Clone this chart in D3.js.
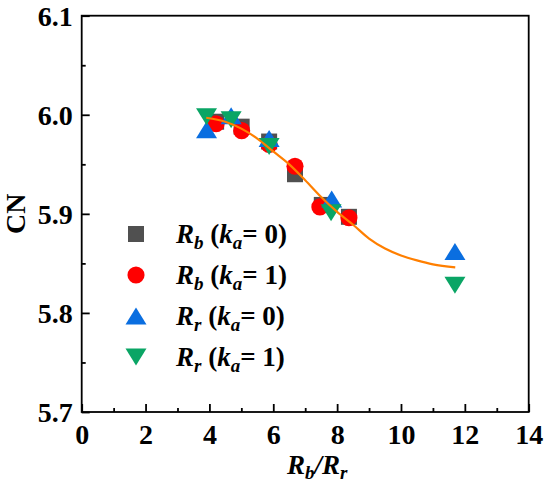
<!DOCTYPE html>
<html>
<head>
<meta charset="utf-8">
<script src="https://cdn.jsdelivr.net/npm/d3@7"></script>
<style>
  html, body { margin: 0; padding: 0; background: #fff; }
  svg text { font-family: "Liberation Serif", "Times New Roman", Times, "DejaVu Serif", serif !important; font-weight: bold; fill: #000; }
</style>
</head>
<body>
<svg id="chart" width="550" height="483"></svg>
<script>
// Rb, ka = 0 (gray squares)
const rbKa0 = [
  [4.21, 5.993], [5.01, 5.988], [5.87, 5.973], [6.68, 5.940], [7.52, 5.909], [8.37, 5.897]
];
// Rb, ka = 1 (red circles)
const rbKa1 = [
  [4.21, 5.991], [5.01, 5.984], [5.87, 5.970], [6.68, 5.948], [7.46, 5.907], [8.37, 5.896]
];
// Rr, ka = 0 (blue up triangles)
const rrKa0 = [
  [3.91, 5.985], [4.68, 5.999], [5.87, 5.976], [7.83, 5.915], [11.69, 5.862]
];
// Rr, ka = 1 (green down triangles)
const rrKa1 = [
  [3.91, 5.998], [4.68, 5.995], [5.87, 5.968], [7.81, 5.901], [11.69, 5.828]
];
// fitted curve
const fitCurve = [
  [3.9, 5.997], [4.5, 5.993], [5.0, 5.986], [5.5, 5.976], [6.0, 5.963], [6.5, 5.950],
  [7.0, 5.934], [7.5, 5.917], [8.0, 5.902], [8.5, 5.889], [9.0, 5.875], [9.5, 5.865],
  [10.0, 5.858], [10.5, 5.853], [11.0, 5.849], [11.7, 5.846]
];

const xTicks = [0, 2, 4, 6, 8, 10, 12, 14];
const xMinor = [1, 3, 5, 7, 9, 11, 13];
const yTicks = [5.7, 5.8, 5.9, 6.0, 6.1];
const yMinor = [5.75, 5.85, 5.95, 6.05];

const series = [
  { data: rbKa0, sym: d3.symbolSquare, size: 256, color: '#505050', main: 'R', sub: 'b', k: '0' },
  { data: rbKa1, sym: d3.symbolCircle, size: 230, color: '#ff0000', main: 'R', sub: 'b', k: '1' },
  { data: rrKa0, sym: 'up', color: '#0a6ee0', main: 'R', sub: 'r', k: '0' },
  { data: rrKa1, sym: 'down', color: '#0aa565', main: 'R', sub: 'r', k: '1' },
];

const margin = { left: 81.7, right: 550 - 528.7, top: 15.7, bottom: 483 - 412 };
const W = 550, H = 483;

const svg = d3.select('#chart');

const x = d3.scaleLinear().domain([0, 14]).range([margin.left, W - margin.right]);
const y = d3.scaleLinear().domain([5.7, 6.1]).range([H - margin.bottom, margin.top]);

// triangles as paths, so they match the picture's wide shape
function triPath(dir, w, h) {
  const s = dir === 'up' ? 1 : -1;
  return `M0,${-s * h / 2}L${w / 2},${s * h / 2}L${-w / 2},${s * h / 2}Z`;
}
function markerPath(s) {
  if (s.sym === 'up' || s.sym === 'down') return triPath(s.sym, 21, 17);
  return d3.symbol().type(s.sym).size(s.size)();
}

// axes
const xAxis = svg.append('g')
  .attr('transform', `translate(0,${y(5.7)})`)
  .call(d3.axisBottom(x).tickValues(xTicks).tickSize(-8).tickFormat(d3.format('d')));
svg.append('g')
  .attr('transform', `translate(0,${y(5.7)})`)
  .call(d3.axisBottom(x).tickValues(xMinor).tickSize(-4).tickFormat(''));

const yAxis = svg.append('g')
  .attr('transform', `translate(${x(0)},0)`)
  .call(d3.axisLeft(y).tickValues(yTicks).tickSize(-8).tickFormat(d3.format('.1f')));
svg.append('g')
  .attr('transform', `translate(${x(0)},0)`)
  .call(d3.axisLeft(y).tickValues(yMinor).tickSize(-4).tickFormat(''));

svg.selectAll('.domain').remove();
svg.selectAll('.tick line').attr('stroke', '#000').attr('stroke-width', 1.8);

xAxis.selectAll('text')
  .attr('y', 32).attr('dy', null)
  .style('font-size', '28px');
yAxis.selectAll('text')
  .attr('x', -9).attr('dy', '0.34em')
  .style('font-size', '28px');

// frame
svg.append('rect')
  .attr('x', x(0)).attr('y', y(6.1))
  .attr('width', x(14) - x(0)).attr('height', y(5.7) - y(6.1))
  .attr('fill', 'none').attr('stroke', '#000').attr('stroke-width', 1.8);

// points
const plot = svg.append('g');
series.forEach(s => {
  plot.append('g').selectAll('path')
    .data(s.data)
    .join('path')
    .attr('d', markerPath(s))
    .attr('transform', d => `translate(${x(d[0])},${y(d[1])})`)
    .attr('fill', s.color);
});

// fitted line on top of markers
svg.append('path')
  .datum(fitCurve)
  .attr('fill', 'none')
  .attr('stroke', '#ff7f00')
  .attr('stroke-width', 2.2)
  .attr('d', d3.line().x(d => x(d[0])).y(d => y(d[1])).curve(d3.curveMonotoneX));

// legend
const legend = svg.append('g');
const legX = 136, legY0 = 234, legStep = 41;
series.forEach((s, i) => {
  const ly = legY0 + i * legStep;
  legend.append('path')
    .attr('d', markerPath(s))
    .attr('transform', `translate(${legX},${ly})`)
    .attr('fill', s.color);
  const t = legend.append('text')
    .attr('x', 176).attr('y', ly + 9)
    .style('font-size', '27px');
  t.append('tspan').style('font-style', 'italic').text(s.main);
  t.append('tspan').style('font-style', 'italic').style('font-size', '19px').attr('dy', 6).text(s.sub);
  t.append('tspan').attr('dy', -6).text('\u00a0(');
  t.append('tspan').style('font-style', 'italic').text('k');
  t.append('tspan').style('font-style', 'italic').style('font-size', '19px').attr('dy', 6).text('a');
  t.append('tspan').attr('dy', -6).text('=\u00a0' + s.k + ')');
});

// axis titles
svg.append('text')
  .attr('transform', `translate(25,${(y(5.7) + y(6.1)) / 2}) rotate(-90)`)
  .attr('text-anchor', 'middle')
  .style('font-size', '28px')
  .text('CN');

const xt = svg.append('text')
  .attr('x', (x(0) + x(14)) / 2 + 12).attr('y', 474)
  .attr('text-anchor', 'middle')
  .style('font-size', '27px');
xt.append('tspan').style('font-style', 'italic').text('R');
xt.append('tspan').style('font-style', 'italic').style('font-size', '19px').attr('dy', 5).text('b');
xt.append('tspan').attr('dy', -5).style('font-style', 'italic').text('/R');
xt.append('tspan').style('font-style', 'italic').style('font-size', '19px').attr('dy', 5).text('r');
</script>
</body>
</html>
